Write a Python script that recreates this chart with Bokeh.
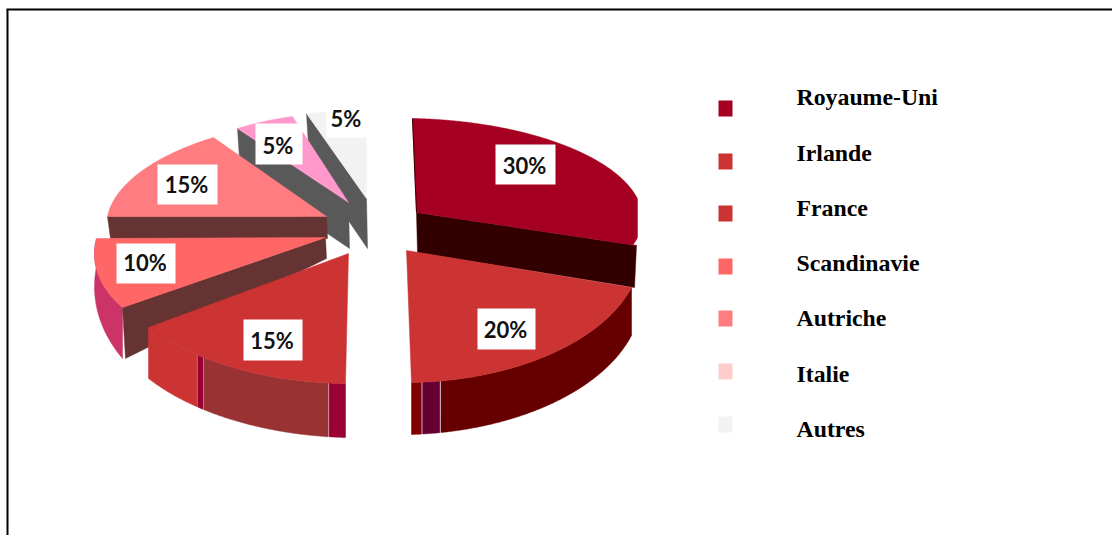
import numpy as np
from bokeh.core.properties import value
from bokeh.embed import file_html
from bokeh.models import Range1d
from bokeh.plotting import figure
from bokeh.resources import INLINE

# ---- data ----
categories = ["Royaume-Uni", "Irlande", "France", "Scandinavie", "Autriche", "Italie", "Autres"]
shares = [30, 20, 15, 10, 15, 5, 5]
share_labels = ["30%", "20%", "15%", "10%", "15%", "5%", "5%"]
legend_colors = ["#A50021", "#CC3333", "#CC3333", "#FF6666", "#FF7C80", "#FFCCCC", "#F2F2F2"]
top_colors = ["#A50021", "#CC3333", "#CC3333", "#FF6666", "#FF7C80", "#FF99CC", "#F2F2F2"]
face_colors = ["#330000", None, None, "#663333", "#663333", "#595959", "#595959"]

# ---- layout of the hand-tilted 3D pie (page pixels) ----
apex = [(416, 212), (406, 250), (348, 253), (325, 237), (326, 216), (348, 202), (366, 198)]
arc_from = [(412, 118), (631, 287), (345, 383), (122, 307), (107, 216), (237, 128), (306, 113)]
arc_to = [(632, 245), (411, 382), (148, 327), (96, 238), (213, 137), (292, 116), (366, 111)]
rim_limit = 637
# radial face: rim point it hangs from, depth at the rim end and at the apex end
face_rim = [(636, 245), None, None, arc_from[3], arc_from[4], arc_from[5], arc_from[6]]
face_depth = [(42, 40), None, None, (51, 21), (22, 22), (46, 46), (50, 50)]
# outer wall: depth at both arc ends, and colour bands as (x from, x to, colour)
walls = {
    1: ((48, 52), [(411, 421, "#800000"), (421, 440, "#660033"), (440, 640, "#660000")]),
    2: ((54, 51), [(148, 197, "#CC3333"), (197, 203, "#990033"), (203, 328, "#993333"), (328, 346, "#990033")]),
    3: ((51, 28), [(90, 125, "#CC3366")]),
}
draw_order = [6, 5, 4, 3, 2, 0, 1]
label_boxes = [(495, 555, 144, 184), (477, 535, 308, 349), (243, 302, 319, 360), (116, 175, 243, 283),
               (157, 217, 164, 204), (255, 302, 123, 164), (326, 367, 100, 137)]
label_y = [165, 329, 340, 262, 184, 145, 118]
legend_y = [108, 161, 213, 266, 318, 371, 424]
legend_text_y = [96, 152, 207, 262, 317, 373, 428]


def sector_arc(i, n=240):
    """Arc of a true circular sector of the share's angle, mapped affinely onto the tilted slice."""
    span = np.radians(shares[i] / sum(shares) * 360.0)
    t = np.linspace(0, span, n)
    c, a, b = (np.array(q, float) for q in (apex[i], arc_from[i], arc_to[i]))
    w_a = np.sin(span - t) / np.sin(span)
    w_b = np.sin(t) / np.sin(span)
    return c[0] + (a[0] - c[0]) * w_a + (b[0] - c[0]) * w_b, c[1] + (a[1] - c[1]) * w_a + (b[1] - c[1]) * w_b


W, H = 1112, 535
p = figure(width=W, height=H, output_backend="svg", toolbar_location=None,
           x_range=Range1d(0, W), y_range=Range1d(H, 0), min_border=0,
           outline_line_color=None, background_fill_color="white", border_fill_color="white")
p.axis.visible = False
p.grid.visible = False


def poly(xs, ys, color):
    p.patch(list(xs), list(ys), fill_color=color, line_color=color, line_width=0.5)


for i in draw_order:
    ax, ay = sector_arc(i)
    if i == 0:
        ax = np.minimum(ax, rim_limit)
        ax, ay = np.r_[ax, face_rim[0][0]], np.r_[ay, face_rim[0][1]]
    if i in walls:
        (d0, d1), bands = walls[i]
        depth = np.linspace(d0, d1, len(ax))
        for x0, x1, col in bands:
            keep = (ax >= x0) & (ax <= x1)
            if keep.any():
                wx, wy, wd = ax[keep], ay[keep], depth[keep]
                poly(np.r_[wx, wx[::-1]], np.r_[wy, wy[::-1] + wd[::-1]], col)
    if face_depth[i] is not None:
        rim, mid = face_depth[i]
        a, c = face_rim[i], apex[i]
        poly([a[0], c[0], c[0] + 1, a[0] + 3 if i else a[0] - 2], [a[1], c[1], c[1] + mid, a[1] + rim], face_colors[i])
    poly(np.r_[apex[i][0], ax], np.r_[apex[i][1], ay], top_colors[i])

# thin dark edge on the left of the first slice
p.line([apex[0][0], arc_from[0][0]], [apex[0][1], arc_from[0][1]], line_color="#330000", line_width=1)

# value labels on white boxes
box = np.array(label_boxes, float)
p.quad(left=box[:, 0], right=box[:, 1], bottom=box[:, 3], top=box[:, 2], fill_color="white", line_color=None)
p.text((box[:, 0] + box[:, 1]) / 2 - 1, label_y, text=share_labels,
       text_font=value("Lato"), text_font_style="bold", text_font_size="22px", text_color="#111111",
       text_align="center", text_baseline="middle")

# legend
p.rect([725] * 7, legend_y, width=14, height=16, fill_color=legend_colors, line_color=None)
p.text([796] * 7, legend_text_y, text=categories, text_font=value("Liberation Serif"), text_font_style="bold",
       text_font_size="23.8px", text_color="black", text_align="left", text_baseline="middle")

# frame
p.line([7, 7], [9, H], line_color="black", line_width=2)
p.line([6, W], [9, 9], line_color="black", line_width=2)

open("out.html", "w").write(file_html(p, INLINE))
